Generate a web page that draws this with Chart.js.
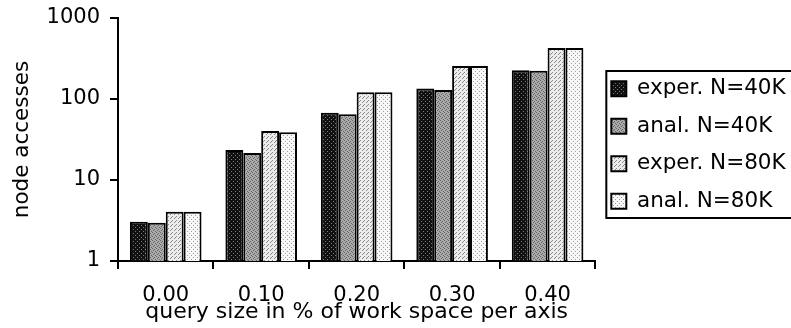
<!DOCTYPE html>
<html>
<head>
<meta charset="utf-8">
<script src="https://cdn.jsdelivr.net/npm/chart.js@4.4.1/dist/chart.umd.min.js"></script>
<style>
  html, body { margin: 0; padding: 0; background: #fff; }
</style>
</head>
<body>
<canvas id="chart" width="791" height="328"></canvas>
<script>
// ---- data ----
const categories = ['0.00', '0.10', '0.20', '0.30', '0.40'];
const experN40 = [3.05, 23.5, 67.5, 135, 227];
const analN40  = [2.97, 21.5, 65, 129, 223];
const experN80 = [4.05, 40.3, 121, 255, 426];
const analN80  = [4.05, 38.8, 121, 255, 426];
const seriesLabels = ['exper. N=40K', 'anal. N=40K', 'exper. N=80K', 'anal. N=80K'];
const yTicks = [1, 10, 100, 1000];

// small dotted fills like the printed figure
function makePattern(bg, fg, dots) {
    const c = document.createElement('canvas');
    c.width = 4; c.height = 4;
    const g = c.getContext('2d');
    g.fillStyle = bg;
    g.fillRect(0, 0, 4, 4);
    g.fillStyle = fg;
    dots.forEach(([x, y]) => g.fillRect(x, y, 1, 1));
    return g.createPattern(c, 'repeat');
}
const fills = [
    makePattern('#111', '#777', [[1, 1], [3, 3]]),
    makePattern('#aaa', '#666', [[0, 0], [2, 1], [1, 2], [3, 3]]),
    makePattern('#ececec', '#8a8a8a', [[0, 0], [2, 2], [3, 1]]),
    makePattern('#f8f8f8', '#9a9a9a', [[1, 1], [3, 3]])
];

const FONT = 'DejaVu Sans';

// border round the legend, open on the right like the original
const legendFrame = {
    id: 'legendFrame',
    afterDraw(chart) {
        const lg = chart.legend;
        if (!lg || !lg.legendHitBoxes.length) return;
        const hb = lg.legendHitBoxes;
        const last = hb[hb.length - 1];
        const ctx = chart.ctx;
        const top = hb[0].top - 7;
        const bottom = last.top + last.height + 6;
        const left = hb[0].left - 5;
        ctx.save();
        ctx.strokeStyle = '#000';
        ctx.lineWidth = 2;
        ctx.strokeRect(left, top, 820 - left, bottom - top);
        ctx.restore();
    }
};

const dataSets = [experN40, analN40, experN80, analN80].map((vals, i) => ({
    label: seriesLabels[i],
    data: vals,
    backgroundColor: fills[i],
    borderColor: '#000',
    borderWidth: 2,
    borderSkipped: 'start',
    categoryPercentage: 0.75,
    barPercentage: 1.0
}));

new Chart(document.getElementById('chart'), {
    type: 'bar',
    data: { labels: categories, datasets: dataSets },
    plugins: [legendFrame],
    options: {
        responsive: false,
        animation: false,
        layout: { padding: { left: 0, right: -2.75, top: 18, bottom: 0 } },
        plugins: {
            tooltip: { enabled: false },
            legend: {
                position: 'right',
                fullSize: false,
                title: { display: true, text: '', font: { size: 1, lineHeight: 1 }, padding: 5 },
                labels: {
                    color: '#000',
                    font: { family: FONT, size: 21.5 },
                    boxWidth: 15,
                    boxHeight: 15,
                    padding: 16
                }
            }
        },
        scales: {
            x: {
                grid: { drawOnChartArea: false, drawTicks: true, tickLength: 8, color: '#000', lineWidth: 2, offset: true },
                border: { display: true, color: '#000', width: 2 },
                ticks: { color: '#000', font: { family: FONT, size: 21 }, padding: 14, maxRotation: 0 },
                title: { display: true, text: 'query size in % of work space per axis', color: '#000',
                         font: { family: FONT, size: 22 }, padding: { top: 0, bottom: 3 } },
                afterFit: s => { s.height = 67; }
            },
            y: {
                type: 'logarithmic',
                min: 1,
                max: 1000,
                grid: { drawOnChartArea: false, drawTicks: true, tickLength: 8, color: '#000', lineWidth: 2 },
                border: { display: true, color: '#000', width: 2 },
                ticks: { color: '#000', font: { family: FONT, size: 21 }, padding: 10,
                         callback: v => String(v) },
                afterBuildTicks: s => { s.ticks = yTicks.map(v => ({ value: v })); },
                title: { display: true, text: 'node accesses', color: '#000',
                         font: { family: FONT, size: 21.5 }, padding: { top: 10, bottom: 0 } },
                afterFit: s => { s.width = 118; s.paddingTop = 0; s.paddingBottom = 0; }
            }
        }
    }
});
</script>
</body>
</html>
